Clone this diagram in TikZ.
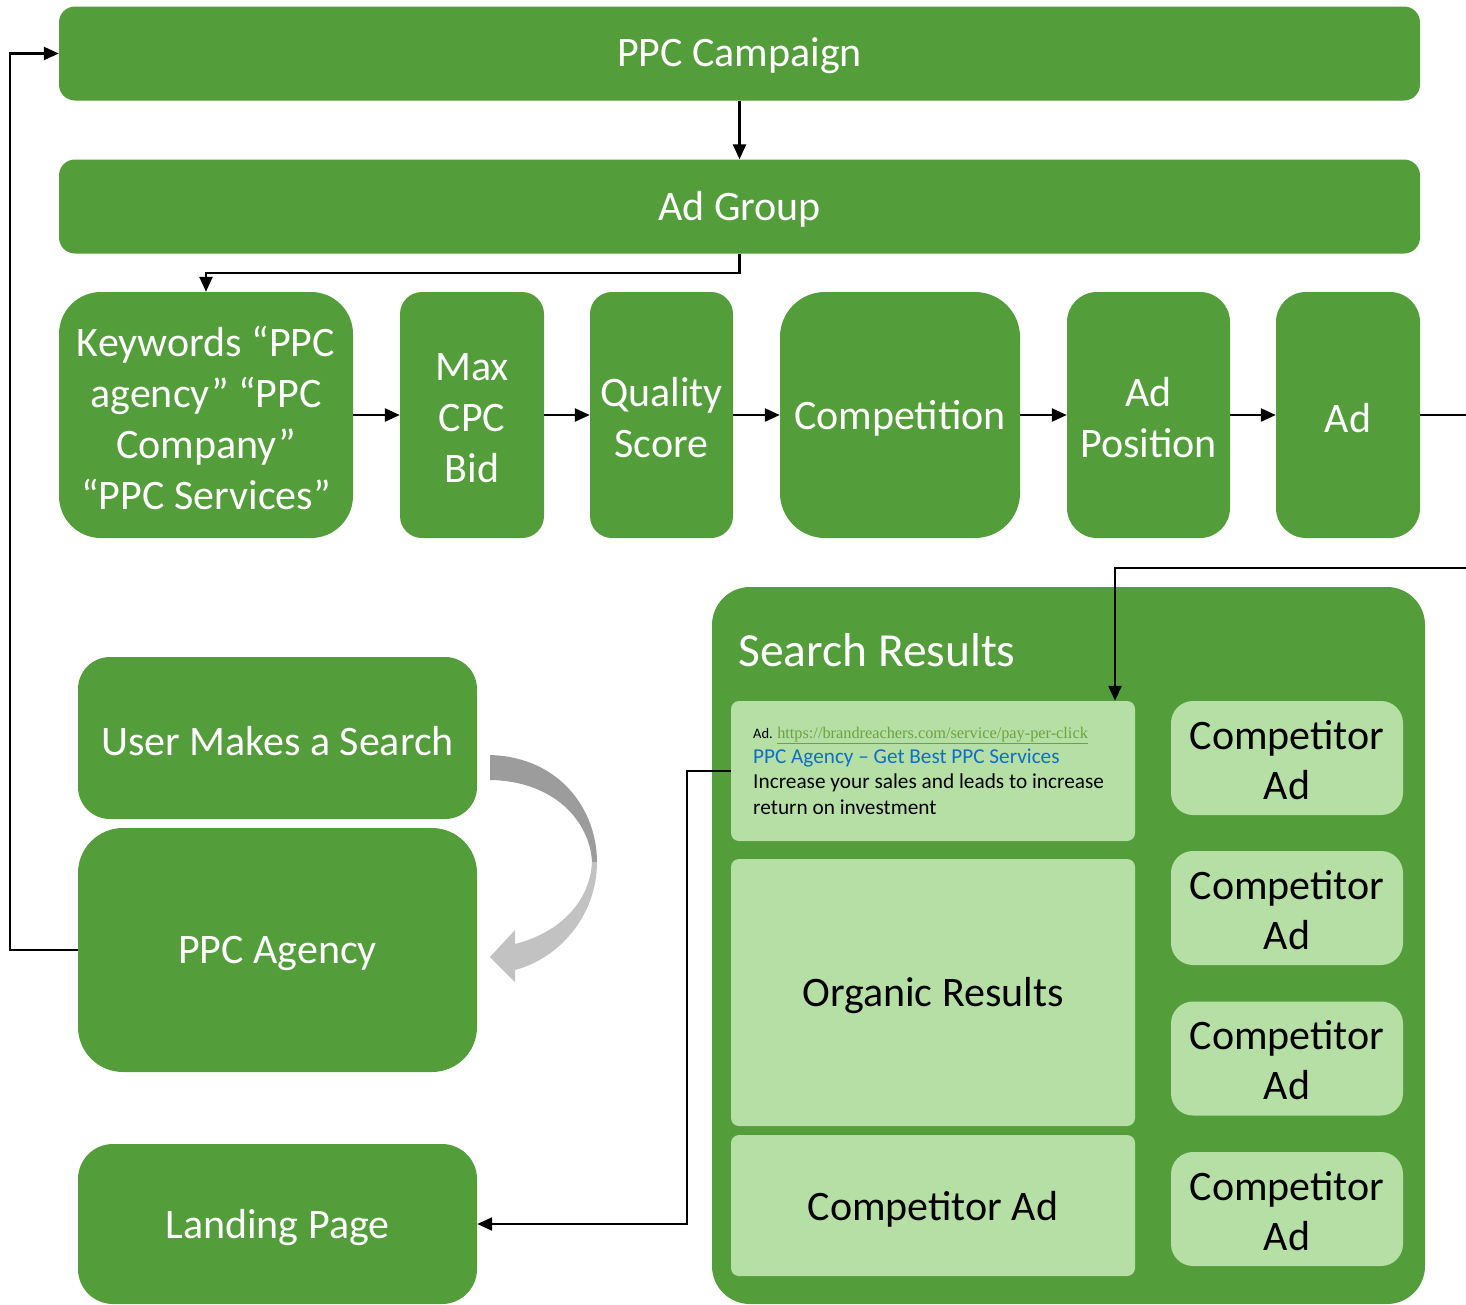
\documentclass[tikz,border=0pt]{standalone}
\usepackage{fontspec}
\setmainfont{Carlito}
\newfontfamily\urlfont{Liberation Serif}
\usetikzlibrary{arrows.meta}
\definecolor{gr}{HTML}{539D3A}
\definecolor{lg}{HTML}{B6DFA6}
\definecolor{urlg}{HTML}{6FA23A}
\definecolor{adblue}{HTML}{0F6FC6}
\definecolor{darkarc}{HTML}{9C9C9C}
\definecolor{lightarc}{HTML}{C2C2C2}
\tikzset{
  gbox/.style={fill=gr, draw=none, text=white, align=center, inner sep=0pt,
    font=\fontsize{42}{51}\selectfont},
  lbox/.style={fill=lg, draw=none, text=black, align=center, inner sep=0pt,
    font=\fontsize{42}{50}\selectfont},
  arr/.style={draw=black, line width=2.4pt, -{Triangle[length=15pt,width=13pt]}},
}
\begin{document}
\begin{tikzpicture}[x=1pt,y=-1pt]
\useasboundingbox (0,0) rectangle (1466,1304);
% top bars
\node[gbox, rounded corners=16pt, minimum width=1361pt, minimum height=94pt] (campaign) at (739.5,53.5) {};
\node[gbox, fill=none] (campaigntxt) at (739.5,56) {PPC Campaign};
\node[gbox, rounded corners=16pt, minimum width=1361pt, minimum height=94pt] (adgroup) at (739.5,206.5) {};
\node[gbox, fill=none] (adgrouptxt) at (739.5,209) {Ad Group};
% row
\node[gbox, rounded corners=42pt, minimum width=294pt, minimum height=246pt] (kw) at (206,415) {};
\node[gbox, fill=none] (kwtxt) at (206,418) {Keywords “PPC\\ agency” “PPC\\ Company”\\ “PPC Services”};
\node[gbox, rounded corners=22pt, minimum width=144pt, minimum height=246pt] (cpc) at (472,415) {};
\node[gbox, fill=none] (cpctxt) at (472,418) {Max\\ CPC\\ Bid};
\node[gbox, rounded corners=22pt, minimum width=143pt, minimum height=246pt] (qs) at (661.5,415) {};
\node[gbox, fill=none] (qstxt) at (661.5,418) {Quality\\ Score};
\node[gbox, rounded corners=45pt, minimum width=240pt, minimum height=246pt] (comp) at (900,415) {};
\node[gbox, fill=none] (comptxt) at (900,418) {Competition};
\node[gbox, rounded corners=30pt, minimum width=163pt, minimum height=246pt] (pos) at (1148.5,415) {};
\node[gbox, fill=none] (postxt) at (1148.5,418) {Ad\\ Position};
\node[gbox, rounded corners=30pt, minimum width=144pt, minimum height=246pt] (ad) at (1348,415) {};
\node[gbox, fill=none] (adtxt) at (1348,418) {Ad};
% left column
\node[gbox, rounded corners=32pt, minimum width=399pt, minimum height=162pt] (search) at (277.5,738) {};
\node[gbox, fill=none] (searchtxt) at (277.5,741) {User Makes a Search};
\node[gbox, rounded corners=45pt, minimum width=399pt, minimum height=244pt] (agency) at (277.5,950) {};
\node[gbox, fill=none] (agencytxt) at (277.5,953) {PPC Agency};
\node[gbox, rounded corners=35pt, minimum width=399pt, minimum height=160pt] (landing) at (277.5,1224) {};
\node[gbox, fill=none] (landingtxt) at (277.5,1228) {Landing Page};
% search results container
\node[fill=gr, draw=none, rounded corners=38pt, minimum width=713pt, minimum height=717pt, inner sep=0pt] (results) at (1068.5,945.5) {};
\node[anchor=west, text=white, inner sep=0pt, font=\fontsize{47.5}{56}\selectfont] (restitle) at (738,650) {Search Results};
% ad box
\node[lbox, rounded corners=8pt, minimum width=404pt, minimum height=140pt] (adbox) at (933,771) {};
\node[anchor=base west, inner sep=0pt, font=\fontsize{14.5}{17}\selectfont] (adl1) at (753,738) {Ad. {\urlfont\fontsize{16.3}{17}\selectfont\color{urlg}\underline{https://brandreachers.com/service/pay-per-click}}};
\node[anchor=base west, inner sep=0pt, text=adblue, font=\fontsize{21.2}{25}\selectfont] (adl2) at (753,763) {PPC Agency – Get Best PPC Services};
\node[anchor=base west, inner sep=0pt, font=\fontsize{21.3}{25}\selectfont] (adl3) at (753,788) {Increase your sales and leads to increase};
\node[anchor=base west, inner sep=0pt, font=\fontsize{21.3}{25}\selectfont] (adl4) at (753,814) {return on investment};
\node[lbox, rounded corners=8pt, minimum width=404pt, minimum height=267pt] (organic) at (933,992.5) {};
\node[lbox, fill=none] (organictxt) at (933,996) {Organic Results};
\node[lbox, rounded corners=8pt, minimum width=404pt, minimum height=141pt] (compbig) at (933,1205.5) {};
\node[lbox, fill=none] (compbigtxt) at (933,1209) {Competitor Ad};
% competitor ads right
\node[lbox, rounded corners=22pt, minimum width=232pt, minimum height=114pt] (c1) at (1287,758) {};
\node[lbox, fill=none] (c1txt) at (1287,760) {Competitor\\ Ad};
\node[lbox, rounded corners=22pt, minimum width=232pt, minimum height=114pt] (c2) at (1287,908) {};
\node[lbox, fill=none] (c2txt) at (1287,910) {Competitor\\ Ad};
\node[lbox, rounded corners=22pt, minimum width=232pt, minimum height=114pt] (c3) at (1287,1058.5) {};
\node[lbox, fill=none] (c3txt) at (1287,1060.5) {Competitor\\ Ad};
\node[lbox, rounded corners=22pt, minimum width=232pt, minimum height=114pt] (c4) at (1287,1209) {};
\node[lbox, fill=none] (c4txt) at (1287,1211) {Competitor\\ Ad};
% connectors
\draw[arr] (campaign.south) -- (adgroup.north);
\draw[arr] (adgroup.south) -- ++(0,19) -| (kw.north);
\draw[arr] (kw.east) -- (cpc.west);
\draw[arr] (cpc.east) -- (qs.west);
\draw[arr] (qs.east) -- (comp.west);
\draw[arr] (comp.east) -- (pos.west);
\draw[arr] (pos.east) -- (ad.west);
\coordinate (offA) at (1500,415);
\coordinate (bend) at (1115,568);
\draw[arr] (ad.east) -- (offA) |- (bend) -- (bend |- adbox.north);
\draw[arr] (adbox.west) -- ++(-44,0) |- (landing.east);
\draw[arr] (agency.west) -- ++(-68,0) |- (campaign.west);
% curved grey arrow
\fill[darkarc] (490,755) .. controls (560,757) and (597,810) .. (597,862) -- (592,862) .. controls (590,822) and (555,781) .. (490,780) -- cycle;
\fill[lightarc] (597,862) .. controls (597,915) and (560,958) .. (515,970) -- (515,982) -- (490,957) -- (515,930) -- (515,944) .. controls (562,932) and (590,900) .. (592,862) -- cycle;
\end{tikzpicture}
\end{document}
